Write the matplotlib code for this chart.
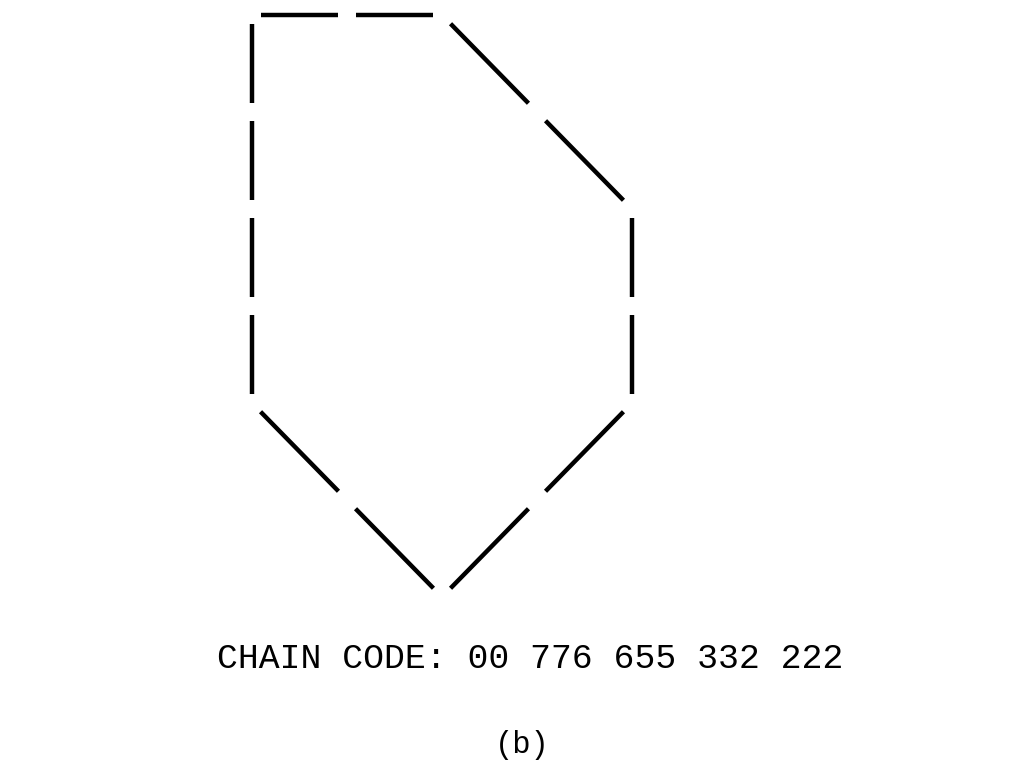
import numpy as np
import matplotlib
matplotlib.use("Agg")
import matplotlib.pyplot as plt

# 8-direction chain code, 0 = east, counter-clockwise
chain = [0, 0, 7, 7, 6, 6, 5, 5, 3, 3, 2, 2, 2, 2]
label = "CHAIN CODE: 00 776 655 332 222"
caption = "(b)"

dirs = {0: (1, 0), 1: (1, 1), 2: (0, 1), 3: (-1, 1),
        4: (-1, 0), 5: (-1, -1), 6: (0, -1), 7: (1, -1)}
steps = np.array([dirs[c] for c in chain], dtype=float)
pts = np.vstack([[0, 0], np.cumsum(steps, axis=0)])

sx, sy = 95.0, 97.0
x0, y0 = 252.0, 15.0

fig = plt.figure(figsize=(10.24, 7.68), dpi=100)
ax = fig.add_axes([0, 0, 1, 1])
ax.set_xlim(-x0 / sx, (1024 - x0) / sx)
ax.set_ylim((y0 - 768) / sy, y0 / sy)
ax.axis("off")

shrink = 0.09
for a, b in zip(pts[:-1], pts[1:]):
    d = b - a
    p = a + d * shrink
    q = b - d * shrink
    ax.plot([p[0], q[0]], [p[1], q[1]], color="black", lw=3.2, solid_capstyle="butt")

ax.text(0.518, 1 - 658 / 768, label, transform=ax.transAxes, ha="center", va="center",
        family="Liberation Mono", fontsize=25)
ax.text(0.51, 1 - 745 / 768, caption, transform=ax.transAxes, ha="center", va="center",
        family="Liberation Mono", fontsize=22)

fig.savefig("out.png", dpi=100)
